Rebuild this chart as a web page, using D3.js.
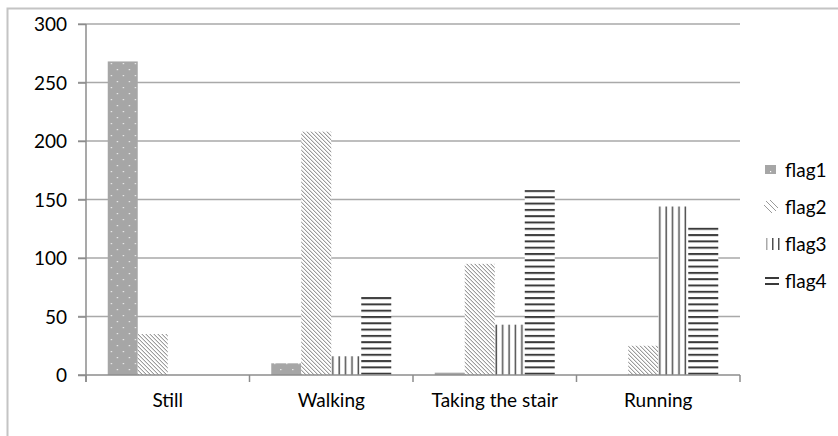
<!DOCTYPE html>
<html>
<head>
<meta charset="utf-8">
<script src="https://cdn.jsdelivr.net/npm/d3@7"></script>
<style>
  html, body { margin: 0; padding: 0; background: #fff; }
  svg { display: block; }
  text { font-family: Lato, "Liberation Sans", sans-serif; fill: #000; }
</style>
</head>
<body>
<svg id="chart" width="838" height="436"></svg>
<script>
// Activity counts per flag
const categories = ["Still", "Walking", "Taking the stair", "Running"];
const seriesNames = ["flag1", "flag2", "flag3", "flag4"];
const flag1 = [268, 10, 2, 0];
const flag2 = [35, 208, 95, 25];
const flag3 = [0, 16, 43, 144];
const flag4 = [0, 68, 158, 127];
const yTicks = [0, 50, 100, 150, 200, 250, 300];

const series = [flag1, flag2, flag3, flag4];

const svg = d3.select("#chart");
const plot = { left: 86, right: 740, top: 24, bottom: 375 };

// Outer chart frame (only top and left edges fall inside the view)
svg.append("rect")
  .attr("x", 7.5).attr("y", 8.5)
  .attr("width", 900).attr("height", 500)
  .attr("fill", "none").attr("stroke", "#c4c4c4").attr("stroke-width", 2);

// Fill patterns for the four series
const defs = svg.append("defs");

const p1 = defs.append("pattern").attr("id", "pat-flag1")
  .attr("patternUnits", "userSpaceOnUse").attr("width", 12).attr("height", 12);
p1.append("rect").attr("width", 12).attr("height", 12).attr("fill", "#a6a6a6");
[[3, 3], [9, 9], [9, 3], [3, 9]].forEach(([cx, cy], i) => {
  if (i < 2) p1.append("rect").attr("x", cx).attr("y", cy).attr("width", 1.2).attr("height", 1.2)
    .attr("fill", "#ffffff").attr("opacity", 0.9);
});

const p2 = defs.append("pattern").attr("id", "pat-flag2")
  .attr("patternUnits", "userSpaceOnUse").attr("width", 4).attr("height", 4);
p2.append("rect").attr("width", 4).attr("height", 4).attr("fill", "#fff");
p2.append("path").attr("d", "M-1,-1 L5,5 M-1,3 L1,5 M3,-1 L5,1")
  .attr("stroke", "#7a7a7a").attr("stroke-width", 1);

const p3 = defs.append("pattern").attr("id", "pat-flag3")
  .attr("patternUnits", "userSpaceOnUse").attr("width", 6.4).attr("height", 6);
p3.append("rect").attr("width", 6.4).attr("height", 6).attr("fill", "#fff");
p3.append("rect").attr("x", 3.2).attr("width", 1.5).attr("height", 6).attr("fill", "#505050");

const p4 = defs.append("pattern").attr("id", "pat-flag4")
  .attr("patternUnits", "userSpaceOnUse").attr("width", 6).attr("height", 6.3).attr("y", 1);
p4.append("rect").attr("width", 6).attr("height", 6.3).attr("fill", "#fff");
p4.append("rect").attr("y", 0).attr("width", 6).attr("height", 2).attr("fill", "#3a3a3a");

// Scales
const x0 = d3.scaleBand().domain(categories).range([plot.left, plot.right])
  .paddingInner(0.266).paddingOuter(0.133);
const x1 = d3.scaleBand().domain(seriesNames).range([0, x0.bandwidth()]);
const y = d3.scaleLinear().domain([0, 300]).range([plot.bottom, plot.top]);

// Gridlines
svg.append("g").selectAll("line").data(yTicks.filter(d => d > 0)).join("line")
  .attr("x1", plot.left - 8).attr("x2", plot.right)
  .attr("y1", d => y(d)).attr("y2", d => y(d))
  .attr("stroke", "#a9a9a9").attr("stroke-width", 1.5);

// Bars
const groups = svg.append("g").selectAll("g").data(categories).join("g")
  .attr("transform", c => `translate(${x0(c)},0)`);
groups.selectAll("rect")
  .data((c, ci) => seriesNames.map((s, si) => ({ s, v: series[si][ci] })))
  .join("rect")
  .attr("x", d => x1(d.s))
  .attr("y", d => y(d.v))
  .attr("width", x1.bandwidth())
  .attr("height", d => y(0) - y(d.v))
  .attr("fill", d => `url(#pat-${d.s})`);

// Y axis
const yAxis = svg.append("g").attr("transform", `translate(${plot.left},0)`)
  .call(d3.axisLeft(y).tickValues(yTicks).tickSize(8).tickPadding(11));
yAxis.select(".domain").attr("d", `M0,${plot.top}V${plot.bottom + 7}`)
  .attr("stroke", "#8c8c8c").attr("stroke-width", 1.5);
yAxis.selectAll(".tick line").attr("stroke", "#8c8c8c").attr("stroke-width", 1.5);
yAxis.selectAll(".tick text").style("font-size", "19px").attr("dy", "0.35em");

// X axis
const xAxis = svg.append("g").attr("transform", `translate(0,${plot.bottom})`)
  .call(d3.axisBottom(x0).tickSize(0).tickPadding(19));
xAxis.select(".domain").remove();
xAxis.append("line").attr("x1", plot.left - 8).attr("x2", plot.right)
  .attr("stroke", "#8c8c8c").attr("stroke-width", 1.5);
const bounds = categories.map(c => x0(c) - x0.step() * 0.266 / 2 + x0.step()).slice(0, -1);
xAxis.selectAll(".bound").data([plot.left, ...bounds, plot.right]).join("line")
  .attr("x1", d => d).attr("x2", d => d).attr("y1", 0).attr("y2", 7)
  .attr("stroke", "#8c8c8c").attr("stroke-width", 1.5);
xAxis.selectAll(".tick text").style("font-size", "19px").attr("dy", "0.71em");

// Legend
const legend = svg.append("g");
const ly = [170, 207, 244, 281];
seriesNames.forEach((s, i) => {
  const g = legend.append("g").attr("transform", `translate(765,${ly[i]})`);
  if (s === "flag1") {
    g.append("rect").attr("x", 0).attr("y", -5).attr("width", 11).attr("height", 9).attr("fill", "#a6a6a6");
    g.append("rect").attr("x", 5).attr("y", 1).attr("width", 1.2).attr("height", 1.2).attr("fill", "#fff");
  } else if (s === "flag2") {
    g.append("path").attr("d", "M1,-6 L11,4 M-1,-2 L7,6 M5,-7 L13,1")
      .attr("stroke", "#9a9a9a").attr("stroke-width", 1);
  } else if (s === "flag3") {
    [1, 7, 13].forEach(xx => g.append("rect").attr("x", xx).attr("y", -6).attr("width", 1.5)
      .attr("height", 12).attr("fill", xx === 1 ? "#aaaaaa" : "#505050"));
  } else {
    [-3, 3].forEach(yy => g.append("rect").attr("x", 0).attr("y", yy - 1).attr("width", 14)
      .attr("height", 2).attr("fill", "#3a3a3a"));
  }
  g.append("text").attr("x", 20).attr("dy", "0.35em").style("font-size", "19px").text(s);
});
</script>
</body>
</html>
